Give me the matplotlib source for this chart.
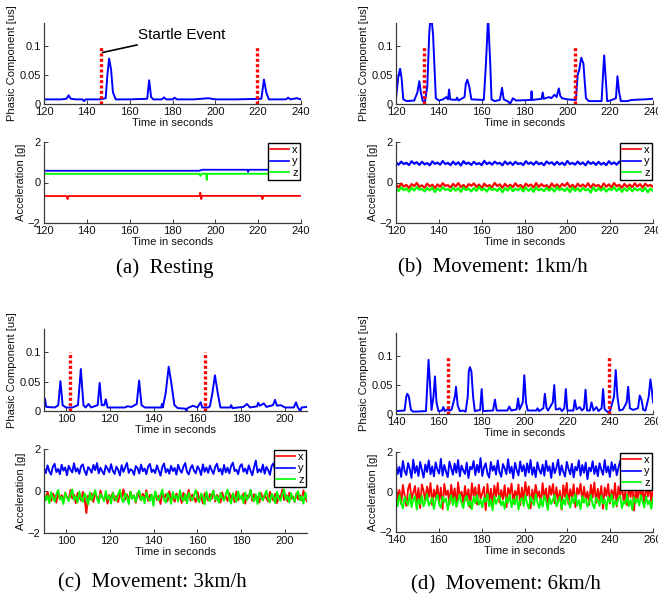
import numpy as np
import matplotlib
matplotlib.use("Agg")
import matplotlib.pyplot as plt

plt.rcParams['font.family'] = ['Liberation Sans', 'DejaVu Sans']

# ---------------- data ----------------
captions = ["(a)  Resting", "(b)  Movement: 1km/h", "(c)  Movement: 3km/h", "(d)  Movement: 6km/h"]
xlims = [(120, 240), (120, 240), (90, 210), (140, 260)]
xticks = [[120, 140, 160, 180, 200, 220, 240],
          [120, 140, 160, 180, 200, 220, 240],
          [100, 120, 140, 160, 180, 200],
          [140, 160, 180, 200, 220, 240, 260]]
startle_a = [146.5, 219.5]
startle_b = [133.2, 203.7]
startle_c = [102.0, 163.5]
startle_d = [164.2, 239.3]

phasic_a = [(120, 0.008), (128, 0.008), (130.5, 0.009), (131.5, 0.015), (132.5, 0.009), (135, 0.008),
            (138, 0.008), (138.7, 0.005), (139.5, 0.008), (146, 0.008), (148.8, 0.010), (149.6, 0.05),
            (150.4, 0.0785), (151.3, 0.06), (152.2, 0.02), (153.5, 0.008), (160, 0.008), (168.2, 0.009),
            (169.1, 0.041), (170, 0.012), (171, 0.008), (175, 0.008), (176, 0.0115), (177, 0.008),
            (180, 0.008), (181, 0.011), (182, 0.008), (190, 0.008), (196.7, 0.010), (200, 0.008),
            (210, 0.008), (221.5, 0.009), (222.7, 0.0424), (223.8, 0.02), (225, 0.008), (233, 0.008),
            (234, 0.011), (235, 0.008), (238, 0.010), (240, 0.008)]

phasic_b = [(120, 0.010), (121, 0.045), (121.9, 0.061), (122.6, 0.045), (123.4, 0.008), (125, 0.005),
            (128.5, 0.006), (130, 0.02), (130.9, 0.0395), (131.6, 0.02), (132.5, 0.005), (133.5, 0.004),
            (134.6, 0.03), (135.5, 0.12), (136.3, 0.16), (137.3, 0.12), (138.6, 0.010), (140, 0.006),
            (142, 0.008), (143.5, 0.012), (144.3, 0.008), (144.8, 0.025), (145.3, 0.008), (148, 0.007),
            (148.5, 0.011), (149.2, 0.006), (152, 0.012), (152.6, 0.035), (153.3, 0.042), (154.2, 0.03),
            (155.2, 0.008), (161, 0.007), (162, 0.07), (163, 0.15), (164, 0.07), (164.6, 0.008),
            (166, 0.005), (168.5, 0.007), (169.5, 0.028), (170.3, 0.008), (172.5, 0.004), (173.2, 0.0),
            (173.8, 0.004), (174.6, 0.010), (176, 0.006), (183, 0.007), (183.3, 0.022), (183.6, 0.007),
            (188, 0.009), (188.5, 0.02), (189, 0.009), (191.5, 0.012), (192.5, 0.010), (194, 0.016),
            (195, 0.012), (196, 0.027), (196.7, 0.014), (197.5, 0.010), (200, 0.008), (204, 0.007),
            (204.8, 0.05), (205.5, 0.058), (206.5, 0.08), (207.5, 0.07), (208.7, 0.010), (210, 0.005),
            (216, 0.005), (216.5, 0.04), (217.2, 0.084), (218, 0.04), (218.6, 0.005), (220, 0.006),
            (222.7, 0.010), (223.4, 0.048), (224.2, 0.02), (225, 0.005), (228, 0.005), (230, 0.007),
            (236, 0.008), (240, 0.009)]

phasic_c = [(90, 0.023), (90.5, 0.02), (91, 0.007), (95, 0.006), (96.5, 0.010), (97.5, 0.051),
            (98.5, 0.010), (100, 0.006), (103, 0.006), (105.5, 0.010), (106.8, 0.0716), (108, 0.010),
            (109, 0.006), (110.3, 0.012), (111.5, 0.006), (114.5, 0.010), (115.4, 0.048), (116.3, 0.010),
            (117.5, 0.010), (118.2, 0.02), (119, 0.006), (127, 0.006), (128, 0.008), (130, 0.007),
            (132.3, 0.012), (133.4, 0.052), (134.5, 0.010), (136, 0.006), (143.5, 0.006), (143.8, 0.012),
            (144.2, 0.006), (145.5, 0.03), (146.9, 0.0756), (148, 0.05), (149.5, 0.010), (151, 0.005),
            (154.5, 0.004), (155, 0.0), (155.5, 0.005), (158, 0.009), (160, 0.006), (161.5, 0.015),
            (162.2, 0.006), (165, 0.006), (165.7, 0.008), (166.8, 0.03), (168, 0.061), (169.3, 0.03),
            (170.5, 0.006), (175, 0.006), (175.4, 0.010), (176, 0.005), (181, 0.007), (182.6, 0.012),
            (184, 0.006), (187.2, 0.008), (187.7, 0.014), (188.5, 0.009), (190.3, 0.013), (191.5, 0.007),
            (194.5, 0.010), (195.4, 0.019), (196.3, 0.009), (198, 0.010), (200, 0.006), (204, 0.006),
            (205, 0.015), (205.8, 0.006), (207, 0.0), (207.5, 0.006), (210, 0.007)]

phasic_d = [(140, 0.005), (144, 0.006), (144.8, 0.03), (145.3, 0.035), (146, 0.03), (147, 0.007),
            (148, 0.004), (154, 0.005), (154.6, 0.05), (155.2, 0.0936), (155.9, 0.05), (156.6, 0.007),
            (157.5, 0.03), (158.2, 0.065), (158.9, 0.02), (159.8, 0.005), (161.5, 0.006), (162.1, 0.012),
            (162.8, 0.005), (164, 0.008), (165.2, 0.006), (166, 0.008), (167.5, 0.03), (168, 0.047),
            (168.8, 0.015), (169.8, 0.005), (171.4, 0.006), (172.5, 0.004), (173.5, 0.03), (174, 0.074),
            (174.5, 0.081), (175.2, 0.074), (176, 0.03), (176.8, 0.005), (179.3, 0.007), (180, 0.043),
            (180.7, 0.005), (185.3, 0.006), (186.2, 0.025), (187, 0.006), (192, 0.006), (192.9, 0.013),
            (193.8, 0.006), (196.3, 0.008), (197, 0.027), (197.7, 0.008), (199.2, 0.02), (199.9, 0.067),
            (200.7, 0.02), (201.5, 0.006), (205.5, 0.006), (206.1, 0.010), (206.8, 0.005), (208.8, 0.010),
            (209.5, 0.035), (210.3, 0.010), (211, 0.006), (213.2, 0.02), (213.9, 0.05), (214.6, 0.008),
            (215.5, 0.008), (216.5, 0.010), (217.5, 0.005), (218.6, 0.010), (219.3, 0.043), (220, 0.006),
            (222.8, 0.006), (223.5, 0.024), (224.3, 0.008), (225.8, 0.012), (226.8, 0.006), (227.8, 0.010),
            (228.5, 0.042), (229.2, 0.006), (230.5, 0.006), (231.3, 0.02), (232.2, 0.006), (233.6, 0.012),
            (234.5, 0.005), (236, 0.010), (236.7, 0.043), (237.4, 0.008), (239, 0.003), (240, 0.006),
            (241.8, 0.03), (242.6, 0.076), (243.4, 0.03), (244.3, 0.006), (246, 0.008), (247.7, 0.02),
            (248.4, 0.047), (249.2, 0.010), (250.7, 0.007), (253, 0.010), (253.8, 0.032), (254.6, 0.025),
            (255.5, 0.007), (256.5, 0.006), (258, 0.03), (258.8, 0.06), (259.5, 0.04), (260, 0.02)]

# Resting accelerometer (nearly constant traces)
acc_a_x = [(120, -0.67), (130.6, -0.67), (131, -0.82), (131.4, -0.67), (192.6, -0.67), (193, -0.5),
           (193.4, -0.82), (193.8, -0.66), (221.6, -0.66), (222, -0.82), (222.4, -0.66), (240, -0.66)]
acc_a_y = [(120, 0.58), (192.5, 0.58), (194, 0.63), (215, 0.63), (215.3, 0.52), (215.6, 0.63), (240, 0.63)]
acc_a_z = [(120, 0.43), (192.5, 0.43), (193, 0.32), (193.5, 0.43), (195.7, 0.43), (196, 0.12),
           (196.3, 0.43), (240, 0.43)]

acc_b_x = [-0.10,-0.24,-0.05,-0.20,-0.12,-0.27,-0.08,-0.18,-0.02,-0.22,
           -0.14,-0.26,-0.06,-0.19,-0.11,-0.28,-0.09,-0.21,-0.04,-0.17,
           -0.13,-0.25,-0.07,-0.20,-0.03,-0.23,-0.12,-0.27,-0.08,-0.16,
           -0.05,-0.22,-0.10,-0.29,-0.06,-0.19,-0.13,-0.24,-0.02,-0.18,
           -0.09,-0.26,-0.07,-0.21,-0.11,-0.23,-0.04,-0.20,-0.12,-0.27,
           -0.06,-0.18,-0.10,-0.25,-0.03,-0.22,-0.08,-0.19,-0.13,-0.28,
           -0.05,-0.21,-0.09,-0.24,-0.07,-0.17,-0.02,-0.23,-0.11,-0.26,
           -0.06,-0.20,-0.10,-0.22,-0.04,-0.25,-0.08,-0.18,-0.12,-0.27,
           -0.05,-0.21,-0.09,-0.24,-0.03,-0.19,-0.11,-0.26,-0.07,-0.22,
           -0.10,-0.23,-0.04,-0.20,-0.08,-0.25,-0.06,-0.18,-0.12,-0.21]
acc_b_y = [0.99,0.88,1.03,0.91,0.97,0.86,1.05,0.93,1.00,0.87,
           1.02,0.90,0.96,0.85,1.04,0.92,0.98,0.88,1.06,0.91,
           0.97,0.86,1.03,0.89,1.00,0.84,1.05,0.92,0.98,0.87,
           1.02,0.90,0.96,0.86,1.07,0.91,0.99,0.88,1.03,0.93,
           0.97,0.85,1.04,0.90,1.00,0.87,1.02,0.91,0.96,0.86,
           1.05,0.92,0.99,0.88,1.03,0.90,0.97,0.85,1.04,0.93,
           1.00,0.87,1.02,0.89,0.98,0.86,1.06,0.91,0.97,0.88,
           1.03,0.90,0.99,0.85,1.04,0.92,1.00,0.87,1.02,0.89,
           0.97,0.86,1.05,0.91,0.99,0.88,1.03,0.93,0.96,0.85,
           1.04,0.90,1.00,0.87,1.02,0.89,0.95,0.80,0.90,0.84]
acc_b_z = [-0.28,-0.42,-0.24,-0.38,-0.30,-0.45,-0.26,-0.40,-0.22,-0.36,
           -0.31,-0.44,-0.27,-0.39,-0.25,-0.47,-0.29,-0.41,-0.23,-0.37,
           -0.32,-0.43,-0.26,-0.40,-0.28,-0.46,-0.24,-0.38,-0.30,-0.44,
           -0.27,-0.41,-0.22,-0.39,-0.29,-0.45,-0.25,-0.37,-0.31,-0.42,
           -0.26,-0.48,-0.28,-0.40,-0.23,-0.43,-0.30,-0.38,-0.27,-0.44,
           -0.25,-0.41,-0.29,-0.46,-0.24,-0.39,-0.31,-0.43,-0.26,-0.40,
           -0.28,-0.45,-0.22,-0.38,-0.30,-0.42,-0.27,-0.47,-0.25,-0.41,
           -0.29,-0.44,-0.26,-0.39,-0.31,-0.50,-0.24,-0.43,-0.28,-0.40,
           -0.26,-0.45,-0.30,-0.38,-0.23,-0.42,-0.27,-0.46,-0.29,-0.41,
           -0.25,-0.44,-0.28,-0.39,-0.31,-0.43,-0.26,-0.48,-0.29,-0.42]

acc_c_x = [-0.15,-0.42,-0.05,-0.33,-0.48,-0.12,-0.28,-0.55,-0.02,-0.38,
           -0.20,-0.50,-0.08,-0.30,-0.44,0.05,-0.36,-0.18,-0.58,-0.10,
           -0.26,-0.46,-0.04,-0.34,-1.05,-0.22,-0.40,-0.12,-0.52,-0.06,
           -0.31,-0.47,0.02,-0.29,-0.43,-0.14,-0.60,-0.19,-0.37,-0.07,
           -0.45,-0.24,-0.53,-0.11,-0.32,0.08,-0.41,-0.16,-0.49,-0.03,
           -0.35,-0.21,-0.56,-0.09,-0.27,-0.44,-0.13,-0.38,0.04,-0.47,
           -0.18,-0.30,-0.54,-0.06,-0.42,-0.23,-0.62,-0.10,-0.33,-0.15,
           -0.48,-0.01,-0.39,-0.25,-0.51,-0.12,-0.36,-0.20,-0.57,-0.08,
           -0.43,-0.28,0.06,-0.46,-0.17,-0.34,-0.52,-0.05,-0.40,-0.22,
           -0.59,-0.11,-0.31,-0.45,-0.14,-0.37,0.02,-0.50,-0.19,-0.29,
           -0.55,-0.07,-0.41,-0.24,-0.48,-0.10,-0.35,-0.16,-0.53,-0.03,
           -0.44,-0.26,-0.38,-0.12,-0.60,-0.21,-0.32,0.05,-0.47,-0.15,
           -0.39,-0.28,-0.54,-0.09,-0.42,-0.18,-0.36,-0.50,-0.04,-0.30,
           -0.46,-0.13,-0.57,-0.22,-0.34,0.07,-0.43,-0.17,-0.49,-0.08,
           -0.37,-0.25,-0.52,-0.11,-0.40,-0.20,-0.45,0.03,-0.33,-0.48]
acc_c_y = [1.10,0.85,1.22,0.94,0.78,1.15,1.30,0.90,1.05,0.80,
           1.25,0.97,1.12,0.75,1.20,1.02,0.88,1.32,0.92,1.08,
           0.82,1.18,1.27,0.95,0.76,1.14,1.03,0.87,1.24,0.99,
           1.33,0.84,1.11,0.93,0.79,1.21,1.06,0.89,1.28,0.96,
           0.81,1.16,1.01,0.74,1.23,0.91,1.13,1.34,0.86,1.04,
           0.98,0.77,1.19,1.09,0.83,1.26,0.94,1.07,0.80,1.17,
           1.29,0.90,1.02,0.85,1.22,0.97,0.73,1.14,1.31,0.88,
           1.05,0.82,1.20,0.95,1.10,0.78,1.25,1.00,0.87,1.16,
           1.33,0.92,0.79,1.08,1.23,0.96,0.84,1.18,1.03,0.76,
           1.27,0.91,1.12,0.86,1.21,0.99,0.81,1.15,1.30,0.93,
           1.06,0.78,1.24,0.89,1.11,0.84,1.19,1.35,0.95,1.02,
           0.80,1.17,1.28,0.92,1.07,0.83,1.22,0.97,0.75,1.13,
           1.45,0.88,1.04,0.90,1.26,0.82,1.15,1.00,0.77,1.20,
           1.32,0.94,0.85,1.09,1.23,0.96,0.79,1.18,1.05,0.87,
           1.27,0.92,1.11,0.76,1.21,0.99,1.14,0.84,1.36,0.90]
acc_c_z = [-0.10,-0.45,-0.22,-0.58,-0.05,-0.35,-0.50,-0.15,0.05,-0.40,
           -0.28,-0.62,-0.08,-0.32,-0.48,-0.18,0.08,-0.42,-0.25,-0.55,
           -0.02,-0.38,-0.52,-0.12,-0.30,-0.65,-0.06,-0.44,-0.20,0.04,
           -0.36,-0.57,-0.14,-0.27,-0.49,0.00,-0.40,-0.23,-0.60,-0.09,
           -0.33,-0.46,-0.16,0.06,-0.39,-0.54,-0.11,-0.29,-0.63,-0.04,
           -0.37,-0.21,-0.51,-0.13,0.02,-0.43,-0.26,-0.58,-0.07,-0.34,
           -0.47,-0.17,-0.70,-0.01,-0.31,-0.45,-0.19,0.07,-0.41,-0.55,
           -0.10,-0.28,-0.61,-0.05,-0.36,-0.22,-0.50,0.03,-0.33,-0.47,
           -0.15,-0.59,-0.08,-0.30,-0.44,-0.20,0.05,-0.38,-0.53,-0.12,
           -0.27,-0.64,-0.03,-0.35,-0.48,-0.18,0.01,-0.42,-0.24,-0.56,
           -0.09,-0.32,-0.46,-0.14,0.06,-0.39,-0.60,-0.11,-0.29,-0.52,
           -0.02,-0.37,-0.21,-0.57,-0.07,-0.43,-0.26,0.04,-0.34,-0.49,
           -0.16,-0.62,-0.06,-0.31,-0.45,-0.19,0.02,-0.40,-0.54,-0.13,
           -0.28,-0.58,-0.04,-0.36,-0.47,-0.17,0.08,-0.41,-0.23,-0.55,
           -0.10,-0.33,-0.50,-0.15,-0.01,-0.44,-0.25,-0.60,-0.08,-0.38]

acc_d_x = [0.25,-0.40,0.10,-0.60,0.35,-0.20,-0.70,0.15,0.42,-0.35,
           -0.05,0.30,-0.55,0.20,-0.80,0.38,0.05,-0.45,0.28,-0.25,
           0.45,-0.65,0.12,-0.30,0.33,-0.50,0.22,-0.85,0.40,-0.15,
           0.08,-0.60,0.36,-0.38,0.18,-0.72,0.48,-0.28,0.02,-0.55,
           0.30,-0.42,0.14,-0.78,0.44,-0.20,0.24,-0.62,0.37,-0.33,
           -0.08,0.26,-0.90,0.40,-0.48,0.16,-0.68,0.32,-0.22,0.46,
           -0.52,0.10,-0.36,0.34,-0.75,0.20,-0.12,0.42,-0.58,0.06,
           -0.30,0.38,-0.66,0.22,-0.44,0.50,-0.18,0.28,-0.82,0.12,
           -0.40,0.36,-0.26,0.04,-0.62,0.44,-0.35,0.18,-0.70,0.30,
           -0.14,0.40,-0.56,0.24,-0.46,0.08,-0.88,0.34,-0.24,0.46,
           -0.60,0.14,-0.32,0.38,-0.76,0.20,-0.10,0.42,-0.50,0.26,
           -0.38,0.02,-0.64,0.36,-0.28,0.48,-0.54,0.16,-0.42,0.30,
           -0.84,0.22,-0.20,0.40,-0.58,0.10,-0.34,0.44,-0.72,0.28,
           -0.16,0.36,-0.48,0.06,-0.66,0.32,-0.26,0.46,-0.92,0.18,
           -0.44,0.38,-0.30,0.12,-0.60,0.42,-0.22,0.26,-0.52,0.34]
acc_d_y = [1.40,0.90,1.25,0.75,1.55,1.05,0.85,1.45,1.15,0.70,
           1.62,0.95,1.30,0.80,1.50,1.10,0.72,1.38,1.00,1.58,
           0.88,1.28,0.78,1.48,1.12,0.92,1.66,0.82,1.35,1.02,
           0.74,1.52,1.20,0.86,1.42,0.96,1.60,0.78,1.32,1.08,
           0.90,1.47,0.70,1.26,1.14,1.55,0.84,1.36,0.98,1.70,
           0.80,1.22,1.44,0.93,0.72,1.50,1.06,1.30,0.87,1.58,
           1.00,0.76,1.40,1.18,0.89,1.64,0.95,1.27,0.68,1.46,
           1.10,0.83,1.53,1.03,1.34,0.79,1.43,0.97,1.60,0.86,
           1.24,0.74,1.48,1.12,0.91,1.37,0.81,1.56,1.05,1.29,
           0.70,1.45,0.94,1.20,1.62,0.85,1.33,1.00,0.77,1.51,
           1.16,0.88,1.41,0.73,1.26,1.08,1.58,0.82,1.35,0.96,
           1.47,0.64,1.22,1.04,1.54,0.90,1.30,0.79,1.44,1.12,
           0.86,1.60,0.98,1.28,0.75,1.49,1.06,1.38,0.84,1.23,
           1.56,0.92,0.72,1.42,1.14,0.87,1.65,1.01,1.31,0.78,
           1.46,0.95,1.19,0.70,1.52,1.09,0.83,1.36,0.99,1.44]
acc_d_z = [-0.30,-0.70,-0.15,-0.55,-0.82,-0.25,-0.48,-0.65,-0.12,-0.76,
           -0.40,-0.20,-0.88,-0.35,-0.60,-0.18,-0.72,-0.45,-0.10,-0.68,
           -0.52,-0.28,-0.85,-0.38,-0.14,-0.62,-0.78,-0.22,-0.50,-0.32,
           -0.90,-0.42,-0.16,-0.66,-0.26,-0.74,-0.46,-0.12,-0.58,-0.80,
           -0.34,-0.20,-0.70,-0.44,-0.86,-0.24,-0.56,-0.15,-0.64,-0.38,
           -0.78,-0.28,-0.50,-0.10,-0.72,-0.40,-0.92,-0.22,-0.60,-0.34,
           -0.18,-0.68,-0.46,-0.84,-0.26,-0.54,-0.14,-0.76,-0.36,-0.62,
           -0.20,-0.88,-0.42,-0.30,-0.70,-0.16,-0.58,-0.82,-0.24,-0.48,
           -0.66,-0.12,-0.52,-0.80,-0.32,-0.74,-0.18,-0.44,-0.90,-0.28,
           -0.60,-0.38,-0.14,-0.72,-0.50,-0.22,-0.84,-0.34,-0.64,-0.16,
           -0.46,-0.78,-0.26,-0.56,-0.10,-0.68,-0.40,-0.86,-0.20,-0.54,
           -0.32,-0.74,-0.48,-0.15,-0.62,-0.82,-0.28,-0.44,-0.70,-0.18,
           -0.58,-0.36,-0.88,-0.24,-0.52,-0.12,-0.76,-0.42,-0.66,-0.30,
           -0.20,-0.80,-0.46,-0.60,-0.14,-0.72,-0.38,-0.90,-0.26,-0.54,
           -0.34,-0.68,-0.16,-0.50,-0.78,-0.22,-0.62,-0.42,-0.84,-0.30]

# ---------------- figure ----------------
W, H = 658, 596
fig = plt.figure(figsize=(W / 100, H / 100), dpi=100)

def axes_px(left, top, right, bottom):
    return fig.add_axes([left / W, 1 - bottom / H, (right - left) / W, (bottom - top) / H])

SP = '#3a3a3a'

def style(ax, xlim, xt):
    for s in ['top', 'right']:
        ax.spines[s].set_visible(False)
    for s in ['left', 'bottom']:
        ax.spines[s].set_color(SP)
        ax.spines[s].set_linewidth(0.9)
    ax.set_xlim(*xlim)
    ax.set_xticks(xt)
    ax.tick_params(direction='in', length=3, width=0.7, color=SP, labelsize=8,
                   labelcolor='#111111', pad=2.5)
    ax.set_xlabel('Time in seconds', fontsize=8, labelpad=0.5, color='#111111')

top_boxes = [(44, 23, 301, 104), (396, 23, 653, 104), (44, 329, 307, 411), (396, 333, 653, 414)]
bot_boxes = [(44, 142, 301, 223), (396, 142, 653, 223), (44, 449, 307, 533), (396, 452, 653, 532)]
phasics = [phasic_a, phasic_b, phasic_c, phasic_d]
startles = [startle_a, startle_b, startle_c, startle_d]
accs = [None,
        (acc_b_x, acc_b_y, acc_b_z),
        (acc_c_x, acc_c_y, acc_c_z),
        (acc_d_x, acc_d_y, acc_d_z)]
acc_lw = [1.3, 1.6, 1.35, 1.35]

for i in range(4):
    # phasic
    ax = axes_px(*top_boxes[i])
    t = [p[0] for p in phasics[i]]
    v = [p[1] for p in phasics[i]]
    ax.plot(t, v, color='#0000ff', lw=1.4)
    for s in startles[i]:
        ax.plot([s, s], [0, 0.1], color='#ff0000', lw=2.4, linestyle=(0, (0.9, 0.7)),
                solid_capstyle='butt', dash_capstyle='butt')
    ax.set_ylim(0, 0.14)
    ax.set_yticks([0, 0.05, 0.1])
    ax.set_yticklabels(['0', '0.05', '0.1'])
    style(ax, xlims[i], xticks[i])
    ax.set_ylabel('Phasic Component [us]', fontsize=8, labelpad=1.5, color='#111111')
    if i == 0:
        ax.annotate('Startle Event', xy=(147.3, 0.089), xytext=(164, 0.119),
                    fontsize=11, va='center', ha='left', annotation_clip=False,
                    arrowprops=dict(arrowstyle='-', lw=1.2, color='black', shrinkA=0, shrinkB=0))

    # accelerometer
    ax2 = axes_px(*bot_boxes[i])
    if i == 0:
        for data, c in [(acc_a_x, '#ff0000'), (acc_a_y, '#0000ff'), (acc_a_z, '#00ff00')]:
            ax2.plot([p[0] for p in data], [p[1] for p in data], color=c, lw=acc_lw[i])
    else:
        for data, c in zip(accs[i], ['#ff0000', '#0000ff', '#00ff00']):
            tt = np.linspace(xlims[i][0], xlims[i][1], len(data))
            ax2.plot(tt, data, color=c, lw=acc_lw[i])
    ax2.set_ylim(-2, 2)
    ax2.set_yticks([-2, 0, 2])
    ax2.set_yticklabels(['\u22122', '0', '2'])
    style(ax2, xlims[i], xticks[i])
    ax2.set_ylabel('Acceleration [g]', fontsize=8, labelpad=1.5, color='#111111')
    leg = ax2.legend(['x', 'y', 'z'], loc='upper right', fontsize=8, frameon=True, fancybox=False,
                     edgecolor='black', framealpha=1, borderpad=0.2, labelspacing=0.1,
                     handlelength=1.7, handletextpad=0.3, borderaxespad=0.1)
    leg.get_frame().set_linewidth(1.0)
    for ln in leg.get_lines():
        ln.set_linewidth(1.2)

cap_pos = [(165, 268), (493, 268), (152, 583), (506, 585)]
for (cx, cy), txt in zip(cap_pos, captions):
    fig.text(cx / W, 1 - cy / H, txt, ha='center', va='center', fontsize=15,
             family=['Liberation Serif', 'DejaVu Serif'])

fig.savefig('out.png', dpi=100)
